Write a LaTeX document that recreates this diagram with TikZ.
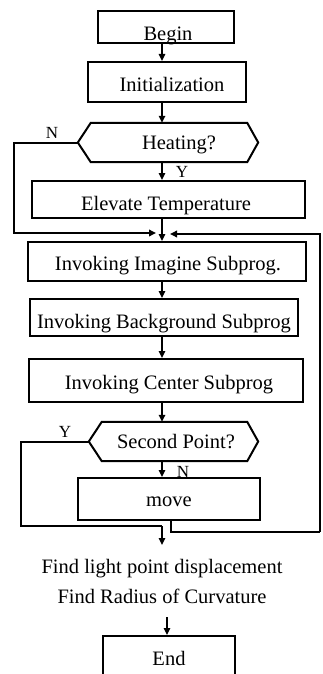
\documentclass[tikz,border=0pt]{standalone}
\usepackage{fontspec}
\setmainfont{Liberation Serif}
\usetikzlibrary{arrows.meta}
\newcommand\boxtext[3]{\raisebox{-#2}[0pt][0pt]{\makebox[0pt]{\hspace*{#1}\hspace*{#1}#3}}}
\begin{document}
\begin{tikzpicture}[x=1pt,y=-1pt,
  box/.style={draw, line width=2pt, inner sep=0pt, font=\fontsize{20.5}{24}\selectfont},
  hexnode/.style={inner sep=0pt, font=\fontsize{20.5}{24}\selectfont},
  hexline/.style={line width=2pt, line join=miter},
  txt/.style={inner sep=0pt, font=\fontsize{20.5}{24}\selectfont},
  lbl/.style={inner sep=0pt, font=\fontsize{17}{20}\selectfont},
  conn/.style={line width=1.5pt},
  tip/.style={-{Triangle[length=7pt,width=6.5pt]}},
  arr/.style={conn, tip},
  loopline/.style={line width=2pt, line join=miter},
]
\useasboundingbox (0,0) rectangle (323,674);
\clip (0,0) rectangle (323,674);

% helper coordinates
\coordinate (ax) at (162,0);

% boxes
\node[box, minimum width=136pt, minimum height=32pt] (begin) at (166,27) {\boxtext{2pt}{14pt}{Begin}};
\node[box, minimum width=158pt, minimum height=40pt] (init) at (167,82) {\boxtext{5pt}{10pt}{Initialization}};

\node[hexnode, minimum width=180pt, minimum height=39pt] (heat) at (168,142.5) {\boxtext{11pt}{6.5pt}{Heating?}};
\draw[hexline] (heat.west) -- ([xshift=13pt]heat.north west) -- ([xshift=-11pt]heat.north east)
  -- (heat.east) -- ([xshift=-11pt]heat.south east) -- ([xshift=13pt]heat.south west) -- cycle;

\node[box, minimum width=273pt, minimum height=37pt] (elev) at (168.5,199.5) {\boxtext{-2.5pt}{10.5pt}{Elevate Temperature}};
\node[box, minimum width=278pt, minimum height=39pt] (imag) at (167,261.5) {\boxtext{1pt}{8.5pt}{Invoking Imagine Subprog.}};
\node[box, minimum width=268pt, minimum height=37pt] (back) at (164,317.5) {\boxtext{0pt}{10.5pt}{Invoking Background Subprog}};
\node[box, minimum width=274pt, minimum height=43pt] (cent) at (166,380.5) {\boxtext{3pt}{8.5pt}{Invoking Center Subprog}};

\node[hexnode, minimum width=169pt, minimum height=39pt] (sp) at (173.5,441.5) {\boxtext{2.5pt}{6.5pt}{Second Point?}};
\draw[hexline] (sp.west) -- ([xshift=13pt]sp.north west) -- ([xshift=-11pt]sp.north east)
  -- (sp.east) -- ([xshift=-11pt]sp.south east) -- ([xshift=13pt]sp.south west) -- cycle;

\node[box, minimum width=182pt, minimum height=42pt] (move) at (169,499) {\boxtext{0pt}{7pt}{move}};

\node[txt, anchor=base] (find1) at (162,573) {Find light point displacement};
\node[txt, anchor=base] (find2) at (162,603) {Find Radius of Curvature};

\node[box, minimum width=132pt, minimum height=46pt] (end) at (169,659) {\boxtext{0pt}{6pt}{End}};

% labels
\node[lbl] (lN1) at (52,133) {N};
\node[lbl] (lY1) at (182,172) {Y};
\node[lbl] (lY2) at (65,432) {Y};
\node[lbl] (lN2) at (183,472) {N};

% straight connectors
\draw[arr] (begin.south -| ax) -- (init.north -| ax);
\draw[arr] (init.south -| ax) -- (heat.north -| ax);
\draw[arr] (heat.south -| ax) -- (elev.north -| ax);
\draw[arr] (elev.south -| ax) -- (imag.north -| ax);
\draw[arr, line width=1.1pt] (imag.south -| ax) -- (back.north -| ax);
\draw[arr] (back.south -| ax) -- (cent.north -| ax);
\draw[arr] (cent.south -| ax) -- (sp.north -| ax);
\draw[arr] (sp.south -| ax) -- (move.north -| ax);

% N branch of Heating
\coordinate (nturn) at (14,233);
\coordinate (nend) at (156,233);
\draw[loopline, tip] (heat.west) -| (nturn) -- (nend);

% loop back from move
\coordinate (mb) at (171,532);
\coordinate (rb) at (320,532);
\coordinate (rt) at (320,234);
\coordinate (rend) at (170,234);
\draw[loopline, line width=1.5pt] (move.south -| mb) -- (mb) -- (rb);
\draw[loopline, tip] (rb) -- (rt) -- (rend);

% Y branch of Second Point
\coordinate (yb) at (21,526);
\coordinate (yj) at (162,526);
\coordinate (tipA) at (162,545);
\draw[loopline] (sp.west) -| (yb) -- (yj);
\draw[arr] (yj) -- (tipA);

% to End
\coordinate (findbot) at (167,617);
\draw[arr, line width=1.1pt] (findbot) -- (end.north -| findbot);
\end{tikzpicture}
\end{document}
